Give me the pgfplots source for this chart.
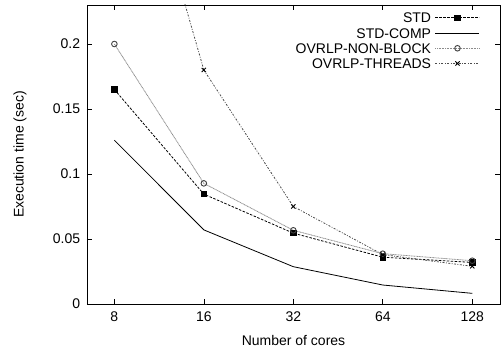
\documentclass[border=0pt]{standalone}
\usepackage{pgfplots}
\pgfplotsset{compat=1.18}
\usepackage{fontspec}
\setmainfont{Liberation Sans}

% Execution time per core count (seconds)
\pgfplotstableread{
idx cores std stdcomp nonblock threads
0   8    0.165  0.126  0.200  0.420
1   16   0.0845 0.057  0.0928 0.180
2   32   0.0545 0.0287 0.0567 0.075
3   64   0.036  0.0146 0.0387 0.038
4   128  0.032  0.0082 0.0333 0.029
}\timings

\begin{document}
\fontsize{14bp}{16bp}\selectfont
\begin{tikzpicture}
\begin{axis}[
  scale only axis,
  width=413bp, height=299bp,
  xmin=-0.306, xmax=4.31,
  ymin=0, ymax=0.23,
  /pgf/number format/assume math mode=true,
  font=\fontsize{14bp}{16bp}\selectfont,
  xtick={0,1,2,3,4},
  xticklabels={8,16,32,64,128},
  ytick={0,0.05,0.1,0.15,0.2},
  yticklabels={0,0.05,0.1,0.15,0.2},
  tick label style={font=\fontsize{14bp}{16bp}\selectfont},
  tick align=inside,
  major tick length=5bp,
  tick style={black, line width=0.6bp},
  axis line style={line width=0.9bp},
  xticklabel style={yshift=-3bp},
  yticklabel style={xshift=-2bp},
  xlabel={Number of cores},
  ylabel={Execution time (sec)},
  x label style={at={(axis description cs:0.5,-0.1204)}, anchor=center},
  y label style={at={(axis description cs:-0.1622,0.5)}, anchor=center},
  legend style={
    at={(axis description cs:0.959,0.981)}, anchor=north east,
    draw=none, fill=none,
    font=\fontsize{14bp}{16bp}\selectfont,
    nodes={inner sep=0pt, text height=10bp, text depth=0bp},
    row sep=5.2bp, column sep=4bp,
  },
  legend cell align=right,
  legend plot pos=right,
  legend image code/.code={\draw[mark repeat=2,mark phase=2,#1] plot coordinates {(0bp,0bp) (22bp,0bp) (44bp,0bp)};},
  every axis plot/.append style={line width=0.8bp},
]
\addplot[black, dash pattern=on 2.5bp off 1.5bp, mark=square*, mark size=2.7bp,
  mark options={solid}] table[x=idx, y=std] {\timings};
\addlegendentry{STD}
\addplot[black, solid, no marks] table[x=idx, y=stdcomp] {\timings};
\addlegendentry{STD-COMP}
\addplot[black!45, dash pattern=on 1bp off 0.6bp, mark=o, mark size=2.8bp,
  mark options={solid, black!75, line width=0.9bp}] table[x=idx, y=nonblock] {\timings};
\addlegendentry{OVRLP-NON-BLOCK}
\addplot[black!70, dash pattern=on 2bp off 1.5bp on 0.8bp off 1.5bp, mark=x, mark size=3bp,
  mark options={solid, black, line width=0.9bp}] table[x=idx, y=threads] {\timings};
\addlegendentry{OVRLP-THREADS}
\end{axis}
\path[use as bounding box] (-87bp,-52bp) rectangle (415bp,304bp);
\end{tikzpicture}
\end{document}
